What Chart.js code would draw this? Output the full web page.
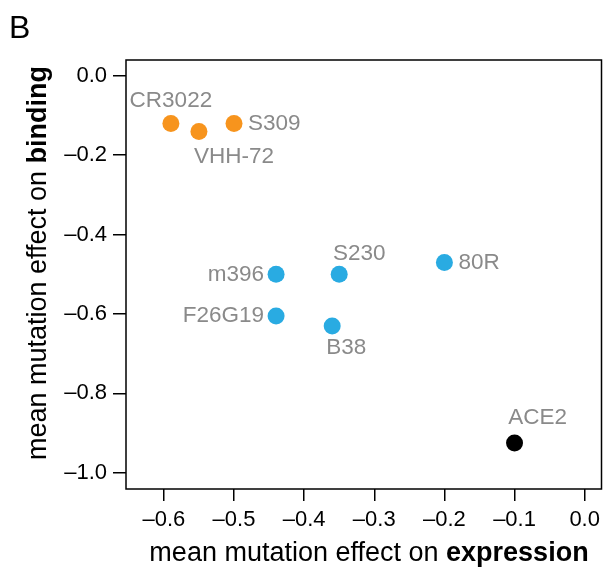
<!DOCTYPE html>
<html>
<head>
<meta charset="utf-8">
<script src="https://cdn.jsdelivr.net/npm/chart.js@4"></script>
<style>
  body { margin: 0; background: #fff; }
</style>
</head>
<body>
<canvas id="chart" width="610" height="569"></canvas>
<script>
var names = ['CR3022', 'VHH-72', 'S309', 'm396', 'S230', '80R', 'F26G19', 'B38', 'ACE2'];
var expression = [-0.59, -0.55, -0.50, -0.44, -0.35, -0.20, -0.44, -0.36, -0.10];
var binding = [-0.12, -0.14, -0.12, -0.50, -0.50, -0.47, -0.605, -0.63, -0.925];
var groups = ['orange', 'orange', 'orange', 'blue', 'blue', 'blue', 'blue', 'blue', 'black'];
var xTicks = [-0.6, -0.5, -0.4, -0.3, -0.2, -0.1, 0.0];
var yTicks = [-1.0, -0.8, -0.6, -0.4, -0.2, 0.0];

var colors = { orange: '#f7941d', blue: '#29abe2', black: '#000000' };
// label offsets from the point: dx, dy, text align
var labelPlace = [
  [0, -23, 'center'], [35, 25, 'center'], [14, 0, 'left'],
  [-12, 0, 'right'], [20, -21, 'center'], [14, 0, 'left'],
  [-12, 0, 'right'], [14, 22, 'center'], [23, -25, 'center']
];

var font = '"Liberation Sans", Arial, Helvetica, sans-serif';

function fmt(v) {
  return (v < -1e-9 ? '\u2013' : '') + Math.abs(v).toFixed(1);
}

var points = [];
for (var i in names) {
  points.push({ x: expression[i], y: binding[i] });
}

var decor = {
  id: 'decor',
  afterDraw: function(chart) {
    var ctx = chart.ctx;
    var a = chart.chartArea;
    ctx.save();
    ctx.strokeStyle = '#000';
    ctx.lineWidth = 1.5;
    ctx.strokeRect(a.left, a.top, a.right - a.left, a.bottom - a.top);

    // point labels
    var meta = chart.getDatasetMeta(0);
    ctx.fillStyle = '#8a8a8a';
    ctx.font = '22.5px ' + font;
    ctx.textBaseline = 'middle';
    meta.data.forEach(function(el, i) {
      ctx.textAlign = labelPlace[i][2];
      ctx.fillText(names[i], el.x + labelPlace[i][0], el.y + labelPlace[i][1]);
    });

    // panel letter
    ctx.fillStyle = '#000';
    ctx.textAlign = 'left';
    ctx.textBaseline = 'alphabetic';
    ctx.font = '32px ' + font;
    ctx.fillText('B', 9, 38);

    // axis titles with bold last word
    function title(x, y, rot, normal, bold) {
      ctx.save();
      ctx.translate(x, y);
      ctx.rotate(rot);
      ctx.font = '27px ' + font;
      var w1 = ctx.measureText(normal).width;
      ctx.font = 'bold 27px ' + font;
      var w2 = ctx.measureText(bold).width;
      var start = -(w1 + w2) / 2;
      ctx.textAlign = 'left';
      ctx.textBaseline = 'alphabetic';
      ctx.font = '27px ' + font;
      ctx.fillText(normal, start, 0);
      ctx.font = 'bold 27px ' + font;
      ctx.fillText(bold, start + w1, 0);
      ctx.restore();
    }
    title(369, 561, 0, 'mean mutation effect on ', 'expression');
    title(46, 263, -Math.PI / 2, 'mean mutation effect on ', 'binding');
    ctx.restore();
  }
};

new Chart(document.getElementById('chart'), {
  type: 'scatter',
  data: {
    datasets: [{
      data: points,
      backgroundColor: groups.map(function(g) { return colors[g]; }),
      borderWidth: 0,
      pointRadius: 8.5,
      pointHoverRadius: 8.5
    }]
  },
  options: {
    responsive: false,
    animation: false,
    events: [],
    layout: { padding: { top: 60, right: 6, left: 0, bottom: 0 } },
    plugins: { legend: { display: false }, tooltip: { enabled: false } },
    scales: {
      x: {
        min: -0.654,
        max: 0.024,
        afterBuildTicks: function(s) { s.ticks = xTicks.map(function(v) { return { value: v }; }); },
        afterFit: function(s) { s.height = 80; },
        border: { display: false },
        grid: { drawOnChartArea: false, drawTicks: true, tickLength: 12, color: '#000', lineWidth: 1.5 },
        ticks: { color: '#000', font: { family: font, size: 22 }, padding: 6, maxRotation: 0, callback: fmt }
      },
      y: {
        min: -1.041,
        max: 0.04,
        afterBuildTicks: function(s) { s.ticks = yTicks.map(function(v) { return { value: v }; }); },
        afterFit: function(s) { s.width = 126; },
        border: { display: false },
        grid: { drawOnChartArea: false, drawTicks: true, tickLength: 13, color: '#000', lineWidth: 1.5 },
        ticks: { color: '#000', font: { family: font, size: 22 }, padding: 6, callback: fmt }
      }
    }
  },
  plugins: [decor]
});
</script>
</body>
</html>
